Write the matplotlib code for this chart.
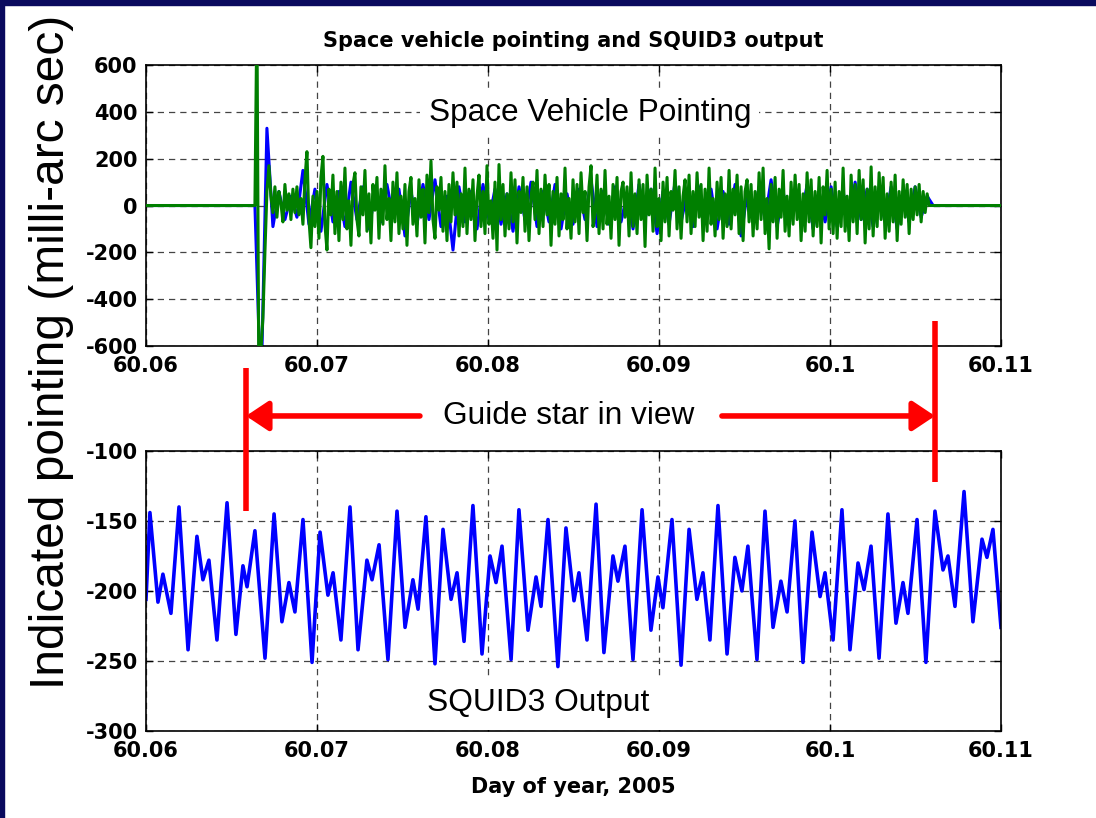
import matplotlib
matplotlib.use("Agg")
import matplotlib.pyplot as plt
from matplotlib.patches import Rectangle

# SQUID3 readout, sampled at the turning points of the trace (day of year, mas)
squid_day = [60.06000, 60.06023, 60.06070, 60.06099, 60.06146, 60.06193, 60.06246, 60.06298,
             60.06333, 60.06368, 60.06415, 60.06474, 60.06526, 60.06567, 60.06591, 60.06637,
             60.06696, 60.06749, 60.06795, 60.06836, 60.06871, 60.06918, 60.06971, 60.07018,
             60.07064, 60.07094, 60.07140, 60.07193, 60.07240, 60.07292, 60.07322, 60.07363,
             60.07415, 60.07468, 60.07515, 60.07561, 60.07591, 60.07637, 60.07690, 60.07737,
             60.07784, 60.07819, 60.07860, 60.07912, 60.07965, 60.08012, 60.08047, 60.08082,
             60.08135, 60.08181, 60.08234, 60.08281, 60.08310, 60.08351, 60.08409, 60.08456,
             60.08503, 60.08532, 60.08579, 60.08632, 60.08678, 60.08731, 60.08760, 60.08801,
             60.08848, 60.08901, 60.08953, 60.08994, 60.09023, 60.09076, 60.09129, 60.09176,
             60.09222, 60.09257, 60.09298, 60.09345, 60.09398, 60.09444, 60.09485, 60.09520,
             60.09573, 60.09620, 60.09667, 60.09713, 60.09749, 60.09795, 60.09842, 60.09895,
             60.09942, 60.09971, 60.10018, 60.10070, 60.10117, 60.10164, 60.10199, 60.10240,
             60.10287, 60.10339, 60.10386, 60.10427, 60.10456, 60.10509, 60.10561, 60.10614,
             60.10661, 60.10690, 60.10731, 60.10784, 60.10836, 60.10889, 60.10918, 60.10953,
             60.11000]
squid_mas = [-206, -144, -208, -188, -216, -140, -242, -161, -192, -178, -235, -137, -231, -182,
             -197, -157, -248, -145, -222, -194, -215, -149, -251, -158, -203, -187, -235, -140,
             -242, -178, -192, -167, -249, -143, -226, -192, -213, -147, -252, -156, -206, -187,
             -236, -139, -245, -175, -194, -168, -249, -142, -228, -190, -211, -149, -254, -155,
             -207, -187, -235, -138, -244, -175, -193, -168, -249, -142, -228, -190, -212, -149,
             -253, -156, -206, -187, -235, -139, -245, -176, -200, -168, -249, -143, -226, -193,
             -215, -150, -251, -158, -204, -187, -235, -142, -242, -180, -199, -168, -248, -145,
             -223, -194, -216, -149, -251, -143, -185, -175, -211, -129, -222, -163, -176, -156,
             -226]

# space vehicle pointing telemetry (mas), uniformly sampled from pointing_t0
day_start, day_end = 60.06, 60.11
pointing_t0 = 60.06637
green_dt = 0.000117
blue_dt = 0.000351
sv_green = [0, 820, -820, -620, -480, -200, 60, 170, 40, -30,
            80, -50, 60, 10, -70, 90, -20, 50, -60, 70, -30, 80, -40, 30, -80, 110, 230, -60, -180, 40,
            -90, 60, -140, 120, 210, -80, -190, 70, -40, 130, -120, 60, -150, 100, -60, 160, -100, 20, -170, 90,
            140, -60, -130, 80, -40, 150, -110, 50, -160, 90, -20, 120, -140, 70, -80, 170, -60, 30, -150, 100,
            -70, 140, -120, 40, -100, 90, -170, 60, 120, -80, 30, -130, 110, -50, 70, -160, 130, -30, 190, -60,
            -140, 80, -20, 120, -110, 60, -150, 90, -70, 140, -40, 100, -130, 50, -90, 160, -120, 70, -60, 110,
            -150, 40, 130, -90, 60, -120, 170, -80, 20, -140, 100, -190, 175, -60, 90, -130, 50, -100, 140, -70,
            110, -160, 60, -30, 120, -110, 80, -150, 40, 100, -60, 150, -120, 70, -90, 130, -40, 90, -170, 60,
            -80, 120, -130, 50, -60, 160, -100, 30, -140, 110, -70, 90, -120, 140, -30, 60, -150, 80, 170, -90,
            -40, 130, -120, 70, -100, 150, -80, 40, -140, 90, -60, 120, -170, 60, 100, -50, 80, -130, 140, -90,
            50, -120, 110, -60, 90, -175, 130, -40, 70, -110, 160, -90, 30, -150, 100, -70, 120, -130, 60, -20,
            150, -100, 80, -140, 40, 110, -70, 130, -120, 60, -90, 140, -50, 90, -150, 70, -110, 160, -80, 30,
            -130, 100, -60, 120, -140, 50, -90, 150, -100, 70, -40, 130, -120, 80, -150, 60, 110, -70, 90, -130,
            60, -100, 140, -60, 160, -120, 30, -185, 90, -70, 120, -140, 70, -50, 150, -110, 40, -130, 100, -80,
            130, -60, 90, -150, 50, -110, 140, -70, 110, -130, 60, -90, 120, -160, 80, -40, 150, -100, 70, -120,
            100, -140, 60, -90, 160, -110, 40, -150, 130, -70, 90, -120, 150, -60, 110, -160, 70, -100, 165, -130,
            80, -90, 140, -60, 120, -140, 50, -110, 100, -70, 130, -150, 60, -80, 110, -50, 90, -120, 70, -60,
            80, -40, 90, -70, 60, -30, 50, 0]
sv_blue = [0, -820, 330, -90, 60, -60, 40,
           -50, 150, -80, 70, -110, 90, -70, 60, -90, 100,
           -60, 80, -100, 50, -70, 90, -50, 70, -130, 60,
           -80, 90, -60, 110, -90, 40, -190, 80, -70, 60,
           -100, 90, -60, 70, -80, 50, -110, 80, -60, 100,
           -90, 60, -70, 90, -100, 50, -80, 70, -60, 110,
           -90, 60, -80, 80, -70, 50, -100, 90, -60, 70,
           -120, 60, -80, 100, -70, 50, -90, 80, -60, 70,
           -100, 60, -80, 90, -130, 50, -70, 80, -60, 110,
           -90, 60, -80, 70, -60, 90, -100, 50, -70, 80,
           -90, 60, -80, 100, -60, 70, -90, 50, -70, 80,
           -100, 60, -70, 80, -50, 40, 0]

# guide star acquisition / loss (day of year)
guide_start = 60.06585
guide_end = 60.10614

xticks = [60.06, 60.07, 60.08, 60.09, 60.10, 60.11]
xtick_labels = ["60.06", "60.07", "60.08", "60.09", "60.1", "60.11"]
top_yticks = [-600, -400, -200, 0, 200, 400, 600]
bottom_yticks = [-300, -250, -200, -150, -100]


def sampled(t0, dt, values):
    days = [day_start] + [t0 + i * dt for i in range(len(values))] + [day_end]
    return days, [0] + list(values) + [0]


plt.rcParams["font.family"] = "DejaVu Sans"
fig = plt.figure(figsize=(10.96, 8.18), dpi=100)
fig.patch.set_facecolor("white")
# slide frame along the left and top edge
fig.patches.append(Rectangle((0, 0), 0.004, 1, transform=fig.transFigure, color="#0a0a5e", zorder=10))
fig.patches.append(Rectangle((0, 0.994), 1, 0.006, transform=fig.transFigure, color="#0a0a5e", zorder=10))

ax1 = fig.add_axes([0.1332, 0.5770, 0.7801, 0.3435])
ax2 = fig.add_axes([0.1332, 0.1064, 0.7801, 0.3423])

for ax, yt in ((ax1, top_yticks), (ax2, bottom_yticks)):
    ax.set_xlim(day_start, day_end)
    ax.set_ylim(yt[0], yt[-1])
    ax.set_xticks(xticks)
    ax.set_xticklabels(xtick_labels)
    ax.set_yticks(yt)
    ax.set_yticklabels([str(v) for v in yt])
    ax.set_axisbelow(True)
    ax.grid(True, color="#444444", linestyle=(0, (5, 4)), linewidth=0.9)
    ax.tick_params(direction="in", length=5, width=1, top=True, right=True,
                   labelsize=15, pad=7)
    ax.tick_params(axis="y", pad=6)
    for lbl in ax.get_xticklabels() + ax.get_yticklabels():
        lbl.set_fontweight("bold")
    for sp in ax.spines.values():
        sp.set_linewidth(1.2)

bd, bv = sampled(pointing_t0, blue_dt, sv_blue)
gd, gv = sampled(pointing_t0, green_dt, sv_green)
ax1.plot(bd, bv, color="#0000ff", lw=2.2, zorder=2)
ax1.plot(gd, gv, color="#007f00", lw=2.2, zorder=3)
ax1.text(60.08596, 395, "Space Vehicle Pointing", family="Liberation Sans", fontsize=22.7,
         ha="center", va="center", zorder=1.5,
         bbox=dict(facecolor="white", edgecolor="none", pad=6))
ax1.set_title("Space vehicle pointing and SQUID3 output", fontsize=15, fontweight="bold", pad=13)

ax2.plot(squid_day, squid_mas, color="#0000ff", lw=2.6, zorder=2)
ax2.text(60.08292, -280, "SQUID3 Output", family="Liberation Sans", fontsize=22.9,
         ha="center", va="center", zorder=1.5,
         bbox=dict(facecolor="white", edgecolor="none", pad=9))
ax2.set_xlabel("Day of year, 2005", fontsize=15, fontweight="bold", labelpad=12)

# guide star in view: markers and arrows across the gap between panels
red = "#ff0000"
ax2.plot([guide_start, guide_start], [-41, -143], color=red, lw=4, clip_on=False,
         solid_capstyle="butt", zorder=5)
ax2.plot([guide_end, guide_end], [-7, -122], color=red, lw=4, clip_on=False,
         solid_capstyle="butt", zorder=5)
arrow = dict(arrowstyle="-|>,head_length=0.45,head_width=0.3", color=red, lw=4,
             mutation_scale=30, shrinkA=0, shrinkB=0)
ax2.annotate("", xy=(guide_start, -75), xytext=(60.07602, -75), arrowprops=arrow,
             annotation_clip=False)
ax2.annotate("", xy=(guide_end, -75), xytext=(60.09368, -75), arrowprops=arrow,
             annotation_clip=False)
ax2.text(60.08474, -75, "Guide star in view", family="Liberation Sans", fontsize=22.8,
         ha="center", va="center", clip_on=False)

fig.text(0.0474, 0.5697, "Indicated pointing (milli-arc sec)", family="Liberation Sans",
         fontsize=34.5, rotation=90, ha="center", va="center")

fig.savefig("out.png", dpi=100)
